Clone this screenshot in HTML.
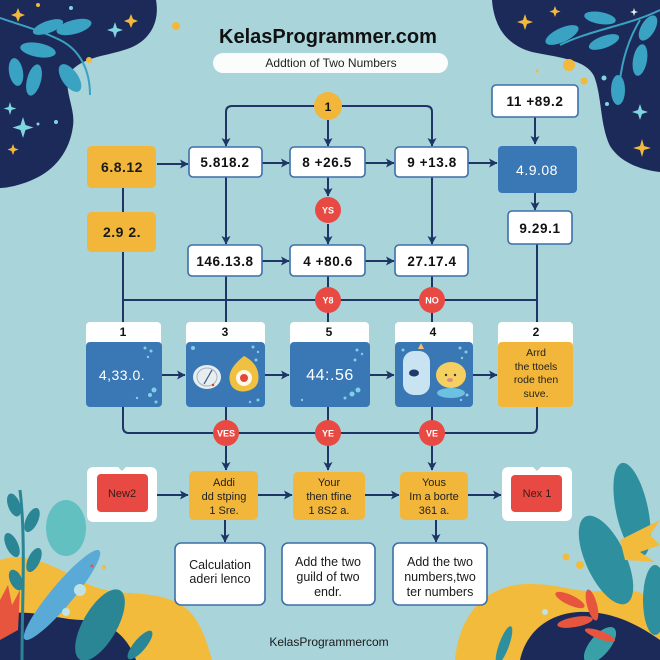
<!DOCTYPE html>
<html><head><meta charset="utf-8"><style>
html,body{margin:0;padding:0;background:#a8d4da;}
svg{display:block;font-family:"Liberation Sans",sans-serif;}
</style></head><body>
<svg width="660" height="660" viewBox="0 0 660 660" xmlns="http://www.w3.org/2000/svg">
<defs>
<marker id="a" markerWidth="9" markerHeight="10" refX="8" refY="5" orient="auto" markerUnits="userSpaceOnUse"><path d="M0,0.5 L8.5,5 L0,9.5 L2,5 Z" fill="#1e3566"/></marker>
</defs>
<rect width="660" height="660" fill="#a8d4da"/>

<!-- top-left blob -->
<path d="M0,0 L156,0 C160,22 150,40 130,48 C108,56 86,56 72,70 C60,86 76,106 73,126 C70,150 56,170 32,180 C18,186 6,188 0,188 Z" fill="#1b2a58"/>
<g fill="#3aa2c2">
<path d="M0,18 C20,25 40,30 60,40 C80,50 90,70 90,95" stroke="#3aa2c2" stroke-width="2" fill="none"/>
<ellipse cx="48" cy="27" rx="16" ry="6" transform="rotate(-20 48 27)"/>
<ellipse cx="74" cy="27" rx="18" ry="7" transform="rotate(-15 74 27)"/>
<ellipse cx="38" cy="50" rx="18" ry="7" transform="rotate(10 38 50)"/>
<ellipse cx="16" cy="72" rx="7" ry="14" transform="rotate(-10 16 72)"/>
<ellipse cx="34" cy="80" rx="7" ry="16" transform="rotate(15 34 80)"/>
<ellipse cx="70" cy="78" rx="8" ry="16" transform="rotate(-35 70 78)"/>
</g>
<g fill="#f2b93c"><path d="M18,8 l2,5 5,2 -5,2 -2,5 -2,-5 -5,-2 5,-2Z"/><path d="M131,14 l2,5 5,2 -5,2 -2,5 -2,-5 -5,-2 5,-2Z"/><path d="M13,144 l1.5,4 4,1.5 -4,1.5 -1.5,4 -1.5,-4 -4,-1.5 4,-1.5Z"/><circle cx="176" cy="26" r="4"/><circle cx="89" cy="60" r="3"/><circle cx="38" cy="5" r="2"/></g>
<g fill="#7fd6e0"><path d="M115,22 l2,6 6,2 -6,2 -2,6 -2,-6 -6,-2 6,-2Z"/><path d="M10,102 l1.5,5 5,1.5 -5,1.5 -1.5,5 -1.5,-5 -5,-1.5 5,-1.5Z"/><path d="M23,117 l2.5,8 8,2.5 -8,2.5 -2.5,8 -2.5,-8 -8,-2.5 8,-2.5Z"/><circle cx="71" cy="8" r="2"/><circle cx="56" cy="122" r="2"/><circle cx="38" cy="124" r="1.5"/></g>

<!-- top-right blob -->
<path d="M492,0 L660,0 L660,172 C640,170 620,162 610,146 C600,126 602,96 594,76 C586,60 562,58 532,52 C506,45 494,26 492,0 Z" fill="#1b2a58"/>
<g fill="#3aa2c2">
<path d="M560,45 C590,30 630,25 660,10 M640,20 C625,45 620,70 618,100" stroke="#3aa2c2" stroke-width="2" fill="none"/>
<ellipse cx="562" cy="35" rx="18" ry="7" transform="rotate(-25 562 35)"/>
<ellipse cx="600" cy="18" rx="16" ry="6" transform="rotate(10 600 18)"/>
<ellipse cx="604" cy="42" rx="16" ry="6" transform="rotate(-20 604 42)"/>
<ellipse cx="640" cy="60" rx="7" ry="16" transform="rotate(10 640 60)"/>
<ellipse cx="618" cy="90" rx="7" ry="15"/>
<ellipse cx="648" cy="28" rx="7" ry="14" transform="rotate(30 648 28)"/>
</g>
<g fill="#f2b93c"><path d="M525,14 l2,6 6,2 -6,2 -2,6 -2,-6 -6,-2 6,-2Z"/><path d="M555,6 l1.5,4 4,1.5 -4,1.5 -1.5,4 -1.5,-4 -4,-1.5 4,-1.5Z"/><path d="M642,139 l2,7 7,2 -7,2 -2,7 -2,-7 -7,-2 7,-2Z"/><circle cx="569" cy="65" r="6"/><circle cx="584" cy="81" r="3.5"/><circle cx="537" cy="71" r="1.5"/></g>
<g fill="#7fd6e0"><path d="M640,104 l2,6 6,2 -6,2 -2,6 -2,-6 -6,-2 6,-2Z"/><path d="M634,8 l1,3 3,1 -3,1 -1,3 -1,-3 -3,-1 3,-1Z" fill="#dfeff2"/><circle cx="604" cy="78" r="2.5"/><circle cx="607" cy="104" r="2"/></g>

<!-- bottom-left decoration -->
<path d="M0,560 C30,550 60,570 90,585 C120,598 150,588 180,604 C200,616 206,640 212,660 L0,660 Z" fill="#f2bb3c"/>
<path d="M0,616 C30,606 60,622 90,620 C115,624 130,642 136,660 L0,660 Z" fill="#1b2a58"/>
<ellipse cx="66" cy="528" rx="20" ry="28" fill="#62c0c0"/>
<path d="M22,660 C22,600 26,540 20,490" stroke="#2a8594" stroke-width="3" fill="none"/>
<g fill="#2a8594">
<ellipse cx="14" cy="505" rx="6" ry="12" transform="rotate(-20 14 505)"/>
<ellipse cx="32" cy="520" rx="6" ry="13" transform="rotate(25 32 520)"/>
<ellipse cx="12" cy="545" rx="6" ry="13" transform="rotate(-25 12 545)"/>
<ellipse cx="34" cy="560" rx="6" ry="13" transform="rotate(25 34 560)"/>
<ellipse cx="16" cy="580" rx="6" ry="11" transform="rotate(-25 16 580)"/>
<ellipse cx="100" cy="625" rx="17" ry="40" transform="rotate(30 100 625)"/>
<ellipse cx="140" cy="645" rx="6" ry="18" transform="rotate(40 140 645)"/>
</g>
<ellipse cx="62" cy="595" rx="58" ry="11" transform="rotate(-50 62 595)" fill="#5aaad8"/>
<path d="M0,600 L8,585 L12,605 L20,590 L18,630 L0,640 Z" fill="#e8553f"/>
<circle cx="80" cy="590" r="6" fill="#bfe3e5"/><circle cx="66" cy="612" r="4" fill="#bfe3e5"/>
<circle cx="104" cy="567" r="2" fill="#f2bb3c"/><circle cx="92" cy="566" r="1.5" fill="#e8553f"/>

<!-- bottom-right decoration -->
<path d="M455,660 C458,625 476,592 515,585 C555,580 580,596 605,590 C630,584 650,598 660,600 L660,660 Z" fill="#f2bb3c"/>
<path d="M520,660 C526,632 548,614 578,612 C612,610 640,626 660,640 L660,660 Z" fill="#1b2a58"/>
<g fill="#2e8f9e">
<ellipse cx="606" cy="560" rx="20" ry="48" transform="rotate(-25 606 560)"/>
<ellipse cx="632" cy="510" rx="16" ry="48" transform="rotate(-12 632 510)"/>
<ellipse cx="655" cy="600" rx="12" ry="35"/>
<ellipse cx="600" cy="645" rx="10" ry="22" transform="rotate(40 600 645)" fill="#3aa0a8"/>
<ellipse cx="504" cy="645" rx="5" ry="20" transform="rotate(20 504 645)"/>
</g>
<path d="M620,540 L660,520 L650,535 L660,545 L640,552 L655,562 L625,560 Z" fill="#f2bb3c"/>
<g fill="#e8553f">
<ellipse cx="570" cy="600" rx="16" ry="5" transform="rotate(25 570 600)"/>
<ellipse cx="575" cy="622" rx="18" ry="5" transform="rotate(-10 575 622)"/>
<ellipse cx="600" cy="635" rx="16" ry="4" transform="rotate(20 600 635)"/>
<ellipse cx="592" cy="605" rx="5" ry="16" transform="rotate(-15 592 605)"/>
</g>
<circle cx="566" cy="557" r="3.5" fill="#f2bb3c"/><circle cx="580" cy="565" r="4" fill="#f2bb3c"/><circle cx="545" cy="612" r="3" fill="#bfe3e5"/>

<!-- title -->
<text x="328" y="43" font-size="20" font-weight="bold" text-anchor="middle" fill="#111">KelasProgrammer.com</text>
<rect x="213" y="53" width="235" height="20" rx="10" fill="#fbfcfc"/>
<text x="331" y="67" font-size="12" text-anchor="middle" fill="#222">Addtion of Two Numbers</text>

<!-- connectors -->
<g stroke="#1e3566" stroke-width="2" fill="none">
<path d="M315,106 H232 Q226,106 226,112 V146" marker-end="url(#a)"/>
<path d="M341,106 H426 Q432,106 432,112 V146" marker-end="url(#a)"/>
<path d="M328,120 V146" marker-end="url(#a)"/>
<path d="M157,164 H188" marker-end="url(#a)"/>
<path d="M262,163 H289" marker-end="url(#a)"/>
<path d="M365,163 H394" marker-end="url(#a)"/>
<path d="M468,163 H497" marker-end="url(#a)"/>
<path d="M535,117 V144" marker-end="url(#a)"/>
<path d="M535,193 V210" marker-end="url(#a)"/>
<path d="M123,188 V212"/>
<path d="M226,177 V244" marker-end="url(#a)"/>
<path d="M328,177 V196" marker-end="url(#a)"/>
<path d="M328,224 V244" marker-end="url(#a)"/>
<path d="M432,177 V244" marker-end="url(#a)"/>
<path d="M262,261 H289" marker-end="url(#a)"/>
<path d="M365,261 H394" marker-end="url(#a)"/>
<path d="M123,300 H537"/>
<path d="M123,252 V322"/>
<path d="M226,276 V322"/>
<path d="M328,276 V322"/>
<path d="M432,276 V322"/>
<path d="M537,244 V322"/>
<path d="M162,375 H185" marker-end="url(#a)"/>
<path d="M265,375 H289" marker-end="url(#a)"/>
<path d="M370,375 H394" marker-end="url(#a)"/>
<path d="M473,375 H497" marker-end="url(#a)"/>
<path d="M123,407 V427 Q123,433 129,433 H531 Q537,433 537,427 V407"/>
<path d="M226,407 V433"/>
<path d="M328,407 V433"/>
<path d="M432,407 V433"/>
<path d="M226,446 V470" marker-end="url(#a)"/>
<path d="M328,446 V470" marker-end="url(#a)"/>
<path d="M432,446 V470" marker-end="url(#a)"/>
<path d="M157,495 H188" marker-end="url(#a)"/>
<path d="M258,495 H292" marker-end="url(#a)"/>
<path d="M365,495 H399" marker-end="url(#a)"/>
<path d="M468,495 H501" marker-end="url(#a)"/>
<path d="M225,520 V542" marker-end="url(#a)"/>
<path d="M436,520 V542" marker-end="url(#a)"/>
</g>

<!-- circle 1 -->
<circle cx="328" cy="106" r="14" fill="#f2b63a"/>
<text x="328" y="111" font-size="12" font-weight="bold" text-anchor="middle" fill="#111">1</text>

<!-- row 1 -->
<rect x="87" y="146" width="69" height="42" rx="5" fill="#f2b63a"/>
<text x="122" y="172" font-size="14" font-weight="bold" text-anchor="middle" fill="#1a1a1a" letter-spacing="0.5">6.8.12</text>
<g fill="#fff" stroke="#3d6fa8" stroke-width="1.6">
<rect x="189" y="147" width="73" height="30" rx="4"/>
<rect x="290" y="147" width="75" height="30" rx="4"/>
<rect x="395" y="147" width="73" height="30" rx="4"/>
<rect x="492" y="85" width="86" height="32" rx="4"/>
<rect x="508" y="211" width="64" height="33" rx="4"/>
<rect x="188" y="245" width="74" height="31" rx="4"/>
<rect x="290" y="245" width="75" height="31" rx="4"/>
<rect x="395" y="245" width="73" height="31" rx="4"/>
</g>
<g font-size="13.5" font-weight="bold" text-anchor="middle" fill="#111" letter-spacing="0.6">
<text x="225" y="167">5.818.2</text>
<text x="327" y="167">8 +26.5</text>
<text x="432" y="167">9 +13.8</text>
<text x="535" y="106">11 +89.2</text>
<text x="540" y="233">9.29.1</text>
<text x="225" y="266">146.13.8</text>
<text x="328" y="266">4 +80.6</text>
<text x="432" y="266">27.17.4</text>
</g>
<rect x="498" y="146" width="79" height="47" rx="4" fill="#3a78b5"/>
<text x="537" y="175" font-size="14" text-anchor="middle" fill="#fff" letter-spacing="0.5">4.9.08</text>
<rect x="87" y="212" width="69" height="40" rx="5" fill="#f2b63a"/>
<text x="122" y="237" font-size="14" font-weight="bold" text-anchor="middle" fill="#1a1a1a" letter-spacing="0.5">2.9 2.</text>

<!-- red circles -->
<g fill="#e84a43">
<circle cx="328" cy="210" r="13"/>
<circle cx="328" cy="300" r="13"/>
<circle cx="432" cy="300" r="13"/>
<circle cx="226" cy="433" r="13"/>
<circle cx="328" cy="433" r="13"/>
<circle cx="432" cy="433" r="13"/>
</g>
<g font-size="9" font-weight="bold" text-anchor="middle" fill="#fff">
<text x="328" y="213.5">YS</text>
<text x="328" y="303.5">Y8</text>
<text x="432" y="303.5">NO</text>
<text x="226" y="436.5">VES</text>
<text x="328" y="436.5">YE</text>
<text x="432" y="436.5">VE</text>
</g>

<!-- cards row -->
<g fill="#fff">
<rect x="86" y="322" width="75" height="30" rx="4"/>
<rect x="186" y="322" width="79" height="30" rx="4"/>
<rect x="290" y="322" width="79" height="30" rx="4"/>
<rect x="395" y="322" width="78" height="30" rx="4"/>
<rect x="498" y="322" width="75" height="30" rx="4"/>
</g>
<g fill="#3a78b5">
<rect x="86" y="342" width="76" height="65" rx="4"/>
<rect x="186" y="342" width="79" height="65" rx="4"/>
<rect x="290" y="342" width="80" height="65" rx="4"/>
<rect x="395" y="342" width="78" height="65" rx="4"/>
</g>
<rect x="498" y="342" width="75" height="65" rx="4" fill="#f2b63a"/>
<g font-size="12" font-weight="bold" text-anchor="middle" fill="#111">
<text x="123" y="336">1</text>
<text x="225" y="336">3</text>
<text x="329" y="336">5</text>
<text x="433" y="336">4</text>
<text x="536" y="336">2</text>
</g>
<g fill="#7fd0e6">
<circle cx="145" cy="348" r="1.5"/><circle cx="151" cy="351" r="1.5"/><circle cx="148" cy="357" r="1.2"/><circle cx="154" cy="390" r="2.5"/><circle cx="150" cy="395" r="2"/><circle cx="156" cy="402" r="1.5"/><circle cx="137" cy="398" r="1.2"/>
<circle cx="193" cy="348" r="2"/><circle cx="253" cy="347" r="1.5"/><circle cx="258" cy="352" r="1.2"/><circle cx="256" cy="360" r="1.5"/><circle cx="258" cy="400" r="1.5"/><circle cx="250" cy="402" r="1.2"/>
<circle cx="357" cy="350" r="1.5"/><circle cx="362" cy="354" r="1.2"/><circle cx="355" cy="360" r="1.5"/><circle cx="358" cy="390" r="2.5"/><circle cx="352" cy="394" r="2.5"/><circle cx="345" cy="398" r="1.5"/><circle cx="302" cy="400" r="1.2"/>
<circle cx="403" cy="350" r="1.5"/><circle cx="410" cy="354" r="1.2"/><circle cx="460" cy="348" r="1.5"/><circle cx="466" cy="352" r="1.5"/><circle cx="462" cy="358" r="1.2"/><circle cx="467" cy="395" r="1.5"/><circle cx="461" cy="400" r="1.2"/>
</g>
<text x="122" y="380" font-size="14" text-anchor="middle" fill="#fff" letter-spacing="0.5">4,33.0.</text>
<text x="330" y="380" font-size="16" text-anchor="middle" fill="#fff" letter-spacing="0.5">44:.56</text>
<!-- card 3 icons -->
<ellipse cx="207" cy="377" rx="14" ry="12" fill="#e8eef0"/>
<ellipse cx="207" cy="377" rx="10" ry="9" fill="none" stroke="#9fb3c0" stroke-width="1"/>
<path d="M204,384 L212,370" stroke="#3a5a80" stroke-width="1.2"/>
<circle cx="213" cy="385" r="1.2" fill="#d33"/>
<path d="M244,356 C256,362 260,372 258,382 C255,393 236,395 231,385 C226,373 234,364 244,356 Z" fill="#f0c040"/>
<circle cx="244" cy="378" r="8" fill="#fff7e8"/>
<circle cx="244" cy="378" r="4" fill="#e04a3a"/>
<!-- card 4 icons -->
<rect x="403" y="351" width="27" height="44" rx="11" fill="#c9e3f2"/>
<ellipse cx="414" cy="373" rx="5" ry="3.5" fill="#1e3a66"/>
<path d="M418,349 l3,-6 3,6 Z" fill="#f2c070"/>
<ellipse cx="451" cy="375" rx="15" ry="13" fill="#f5d060"/>
<ellipse cx="451" cy="393" rx="14" ry="5" fill="#6cc0e0"/>
<circle cx="446" cy="375" r="1.2" fill="#333"/><circle cx="455" cy="375" r="1.2" fill="#333"/>
<ellipse cx="450" cy="380" rx="3" ry="2" fill="#e08a80"/>
<!-- card 2 text -->
<g font-size="10.5" text-anchor="middle" fill="#222">
<text x="536" y="356">Arrd</text>
<text x="536" y="370">the ttoels</text>
<text x="536" y="383">rode then</text>
<text x="536" y="397">suve.</text>
</g>

<!-- row 4 -->
<path d="M94,467 H118 L122,471 L126,467 H150 Q157,467 157,474 V515 Q157,522 150,522 H94 Q87,522 87,515 V474 Q87,467 94,467 Z" fill="#fff"/>
<rect x="97" y="474" width="51" height="38" rx="4" fill="#e84a43"/>
<text x="122" y="497" font-size="11" text-anchor="middle" fill="#3a1a1a">New2</text>
<path d="M509,467 H533 L537,471 L541,467 H565 Q572,467 572,474 V514 Q572,521 565,521 H509 Q502,521 502,514 V474 Q502,467 509,467 Z" fill="#fff"/>
<rect x="511" y="475" width="51" height="37" rx="4" fill="#e84a43"/>
<text x="537" y="497" font-size="11" text-anchor="middle" fill="#3a1a1a">Nex 1</text>
<g fill="#f2b63a">
<rect x="189" y="471" width="69" height="49" rx="5"/>
<rect x="293" y="472" width="72" height="48" rx="5"/>
<rect x="400" y="472" width="68" height="48" rx="5"/>
</g>
<g font-size="11" text-anchor="middle" fill="#222">
<text x="224" y="486">Addi</text>
<text x="224" y="500">dd stping</text>
<text x="224" y="514">1 Sre.</text>
<text x="329" y="486">Your</text>
<text x="329" y="500">then tfine</text>
<text x="329" y="514">1 8S2 a.</text>
<text x="434" y="486">Yous</text>
<text x="434" y="500">Im a borte</text>
<text x="434" y="514">361 a.</text>
</g>

<!-- row 5 -->
<g fill="#fff" stroke="#3d6fa8" stroke-width="1.6">
<rect x="175" y="543" width="90" height="62" rx="6"/>
<rect x="282" y="543" width="93" height="62" rx="6"/>
<rect x="393" y="543" width="94" height="62" rx="6"/>
</g>
<g font-size="12.5" text-anchor="middle" fill="#1a1a1a">
<text x="220" y="569">Calculation</text>
<text x="220" y="583">aderi lenco</text>
<text x="328" y="566">Add the two</text>
<text x="328" y="581">guild of two</text>
<text x="328" y="596">endr.</text>
<text x="440" y="566">Add the two</text>
<text x="440" y="581">numbers,two</text>
<text x="440" y="596">ter numbers</text>
</g>

<text x="329" y="646" font-size="12" text-anchor="middle" fill="#1a1a1a">KelasProgrammercom</text>
</svg>
</body></html>
